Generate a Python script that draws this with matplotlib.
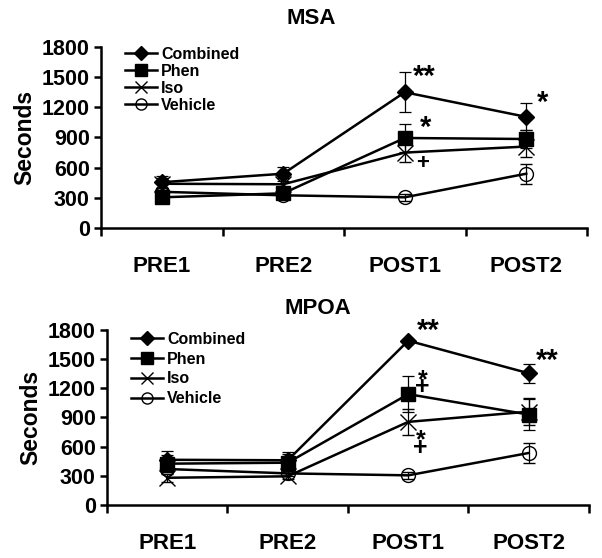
import matplotlib
matplotlib.use("Agg")
import matplotlib.pyplot as plt

plt.rcParams['font.family'] = ['Liberation Sans', 'DejaVu Sans']
plt.rcParams['font.weight'] = 'bold'

phases = ["PRE1", "PRE2", "POST1", "POST2"]
groups = ["Combined", "Phen", "Iso", "Vehicle"]

# MSA panel (seconds, mean and error)
msa_combined = [455, 540, 1350, 1105]
msa_combined_err = [60, 70, 200, 135]
msa_phen = [305, 345, 895, 885]
msa_phen_err = [50, 50, 140, 90]
msa_iso = [440, 435, 750, 810]
msa_iso_err = [60, 60, 90, 100]
msa_vehicle = [360, 325, 305, 540]
msa_vehicle_err = [40, 30, 35, 100]

# MPOA panel
mpoa_combined = [465, 460, 1690, 1355]
mpoa_combined_err = [95, 90, 20, 100]
mpoa_phen = [425, 435, 1140, 930]
mpoa_phen_err = [90, 90, 185, 160]
mpoa_iso = [280, 295, 855, 960]
mpoa_iso_err = [40, 30, 130, 140]
mpoa_vehicle = [370, 325, 305, 535]
mpoa_vehicle_err = [30, 30, 35, 100]

# significance marks: text, x (category index), y (seconds), font size
msa_marks = [("**", 2.16, 1500, 21), ("*", 3.13, 1245, 21),
             ("*", 2.17, 995, 21), ("+", 2.15, 640, 16)]
mpoa_marks = [("**", 2.17, 1790, 21), ("**", 3.15, 1480, 21),
              ("*\n+", 2.12, 1250, 18), ("*\n+", 2.10, 625, 18)]

styles = {
    "Combined": dict(marker='D', ms=8.5, mfc='black', mec='black'),
    "Phen": dict(marker='s', ms=10, mfc='black', mec='black'),
    "Iso": dict(marker='x', ms=11, mfc='none', mec='black', mew=1.0),
    "Vehicle": dict(marker='o', ms=10, mfc='none', mec='black', mew=1.0),
}


def draw_panel(ax, series, errs, marks, title, title_x, title_y, legend_anchor, spacing):
    x = list(range(len(phases)))
    handles = {}
    for name in ["Vehicle", "Iso", "Phen", "Combined"]:
        eb = ax.errorbar(x, series[name], yerr=errs[name], color='black', lw=1.8,
                         elinewidth=0.9, capsize=4, capthick=0.9, **styles[name])
        handles[name] = eb.lines[0]
    ax.set_xlim(-0.5, 3.5)
    ax.set_ylim(0, 1800)
    ax.set_yticks(range(0, 1801, 300))
    ax.set_xticks([-0.5, 0.5, 1.5, 2.5, 3.5])
    ax.set_xticklabels([])
    ax.set_xticks(x, minor=True)
    ax.set_xticklabels(phases, minor=True, fontsize=16, fontweight='bold')
    ax.tick_params(axis='x', which='minor', length=0, pad=20)
    ax.tick_params(axis='x', which='major', direction='out', length=6, width=1.8)
    ax.tick_params(axis='y', direction='out', length=5, width=1.8, labelsize=15.5, pad=3)
    for t in ax.get_yticklabels():
        t.set_fontweight('bold')
    ax.spines['top'].set_visible(False)
    ax.spines['right'].set_visible(False)
    ax.spines['left'].set_linewidth(1.8)
    ax.spines['bottom'].set_linewidth(1.8)
    ax.set_ylabel("Seconds", fontsize=16.5, fontweight='bold', labelpad=4)
    ax.figure.text(title_x, title_y, title, ha='center', va='center',
                   fontsize=16, fontweight='bold')
    for txt, mx, my, fs in marks:
        ax.text(mx, my, txt, ha='center', va='center', fontsize=fs,
                fontweight='bold', linespacing=0.12)
    ax.legend([handles[g] for g in groups], groups,
              loc='upper left', bbox_to_anchor=legend_anchor, frameon=False,
              prop={'size': 11.5, 'weight': 'bold'}, handlelength=2.0,
              handletextpad=0.25, labelspacing=spacing, borderpad=0,
              borderaxespad=0, markerscale=0.8)


fig = plt.figure(figsize=(6.02, 5.58), dpi=100)
ax1 = fig.add_axes([0.1678, 0.5914, 0.8073, 0.3244])
ax2 = fig.add_axes([0.1777, 0.0950, 0.8007, 0.3136])

draw_panel(ax1,
           {"Combined": msa_combined, "Phen": msa_phen, "Iso": msa_iso, "Vehicle": msa_vehicle},
           {"Combined": msa_combined_err, "Phen": msa_phen_err, "Iso": msa_iso_err, "Vehicle": msa_vehicle_err},
           msa_marks, "MSA", 0.517, 0.966, (0.05, 1.0), 0.12)
draw_panel(ax2,
           {"Combined": mpoa_combined, "Phen": mpoa_phen, "Iso": mpoa_iso, "Vehicle": mpoa_vehicle},
           {"Combined": mpoa_combined_err, "Phen": mpoa_phen_err, "Iso": mpoa_iso_err, "Vehicle": mpoa_vehicle_err},
           mpoa_marks, "MPOA", 0.528, 0.448, (0.05, 0.99), 0.3)

fig.savefig("out.png", dpi=100)
